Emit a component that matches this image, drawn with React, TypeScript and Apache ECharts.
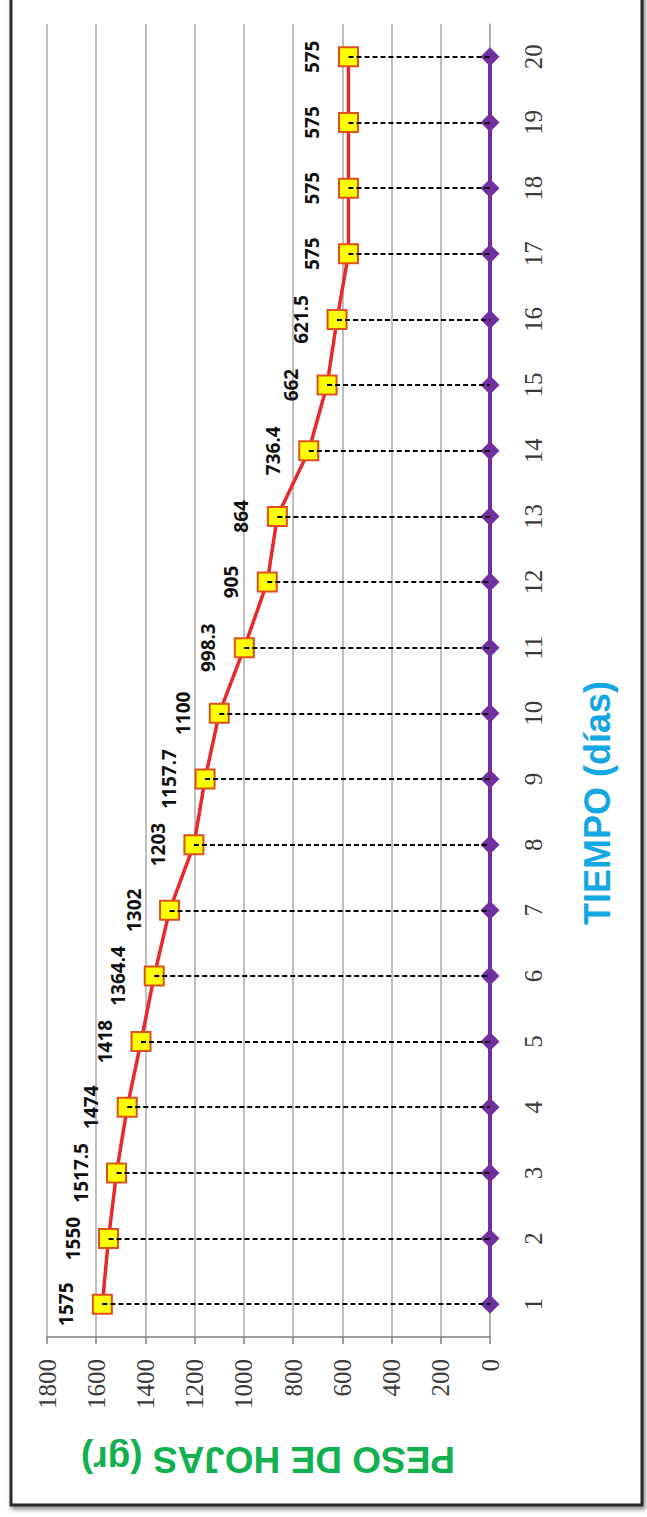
import React, { useEffect, useRef } from "react";
import * as echarts from "echarts";

const categories = ["1", "2", "3", "4", "5", "6", "7", "8", "9", "10", "11", "12", "13", "14", "15", "16", "17", "18", "19", "20"];
const pesoValues = [1575, 1550, 1517.5, 1474, 1418, 1364.4, 1302, 1203, 1157.7, 1100, 998.3, 905, 864, 736.4, 662, 621.5, 575, 575, 575, 575];
const baseValues = [0, 0, 0, 0, 0, 0, 0, 0, 0, 0, 0, 0, 0, 0, 0, 0, 0, 0, 0, 0];
const valueMin = 0;
const valueMax = 1800;
const valueStep = 200;
const xTitle = "PESO DE HOJAS (gr)";
const yTitle = "TIEMPO (días)";

export default function App() {
  const ref = useRef<HTMLDivElement>(null);
  useEffect(() => {
    if (!ref.current) return;
    const chart = echarts.init(ref.current, null, { renderer: "svg" });
    const dropLines = categories.map((c, i) => [
      { coord: [pesoValues[i], c] },
      { coord: [0, c] },
    ]);
    chart.setOption({
      animation: false,
      backgroundColor: "#ffffff",
      grid: { left: 47, right: 157, top: 24, bottom: 180, containLabel: false },
      xAxis: {
        type: "value",
        min: valueMin,
        max: valueMax,
        interval: valueStep,
        inverse: true,
        position: "bottom",
        axisLine: { show: true, lineStyle: { color: "#808080", width: 1.5 } },
        axisTick: { show: true, length: 7, lineStyle: { color: "#808080", width: 1.5 } },
        splitLine: { show: true, lineStyle: { color: "#aaaaaa", width: 1.5 } },
        axisLabel: {
          rotate: 90,
          margin: 22,
          fontFamily: "Liberation Serif",
          fontSize: 25,
          color: "#3a3a3a",
          formatter: (v: number) => String(v),
        },
      },
      yAxis: {
        type: "category",
        data: categories,
        position: "right",
        boundaryGap: true,
        axisLine: { show: true, lineStyle: { color: "#aaaaaa", width: 1.5 } },
        axisTick: { show: false },
        splitLine: { show: false },
        axisLabel: {
          rotate: 90,
          margin: 31,
          fontFamily: "Liberation Serif",
          fontSize: 25,
          color: "#3a3a3a",
        },
      },
      graphic: [
        {
          type: "rect",
          z: -10,
          shape: { x: 11, y: -10, width: 631, height: 1515 },
          style: {
            fill: "#ffffff",
            stroke: "#2a2a2a",
            lineWidth: 3,
            shadowBlur: 4,
            shadowOffsetX: 2,
            shadowOffsetY: 3,
            shadowColor: "rgba(0,0,0,0.45)",
          },
        },
        {
          type: "text",
          x: 597,
          y: 803,
          rotation: Math.PI / 2,
          style: {
            text: yTitle,
            fill: "#14a7e3",
            font: "bold 36px 'Liberation Sans', Arial, sans-serif",
            textAlign: "center",
            textVerticalAlign: "middle",
          },
        },
        {
          type: "text",
          x: 268,
          y: 1459,
          rotation: Math.PI,
          style: {
            text: xTitle,
            fill: "#12b04f",
            font: "bold 37px 'Liberation Sans', Arial, sans-serif",
            textAlign: "center",
            textVerticalAlign: "middle",
          },
        },
      ],
      series: [
        {
          name: "base",
          type: "line",
          data: baseValues,
          symbol: "diamond",
          symbolSize: 19,
          itemStyle: { color: "#7030a0" },
          lineStyle: { color: "#7030a0", width: 4 },
          z: 2,
        },
        {
          name: "peso",
          type: "line",
          data: pesoValues,
          symbol: "rect",
          symbolSize: 19,
          itemStyle: { color: "#ffff00", borderColor: "#e0501c", borderWidth: 2 },
          lineStyle: { color: "#e8282c", width: 3.5 },
          z: 3,
          label: {
            show: true,
            position: "left",
            distance: 16,
            rotate: 90,
            align: "center",
            verticalAlign: "bottom",
            fontFamily: "Noto Sans",
            fontWeight: "bold",
            fontSize: 19,
            color: "#111111",
            formatter: (p: any) => String(p.value),
          },
          markLine: {
            silent: true,
            symbol: ["none", "none"],
            label: { show: false },
            lineStyle: { color: "#000000", type: [5, 3], width: 2 },
            data: dropLines,
          },
        },
      ],
    });
    return () => chart.dispose();
  }, []);
  return (
    <div
      ref={ref}
      style={{ position: "absolute", left: 0, top: 0, width: 647, height: 1517 }}
    />
  );
}
